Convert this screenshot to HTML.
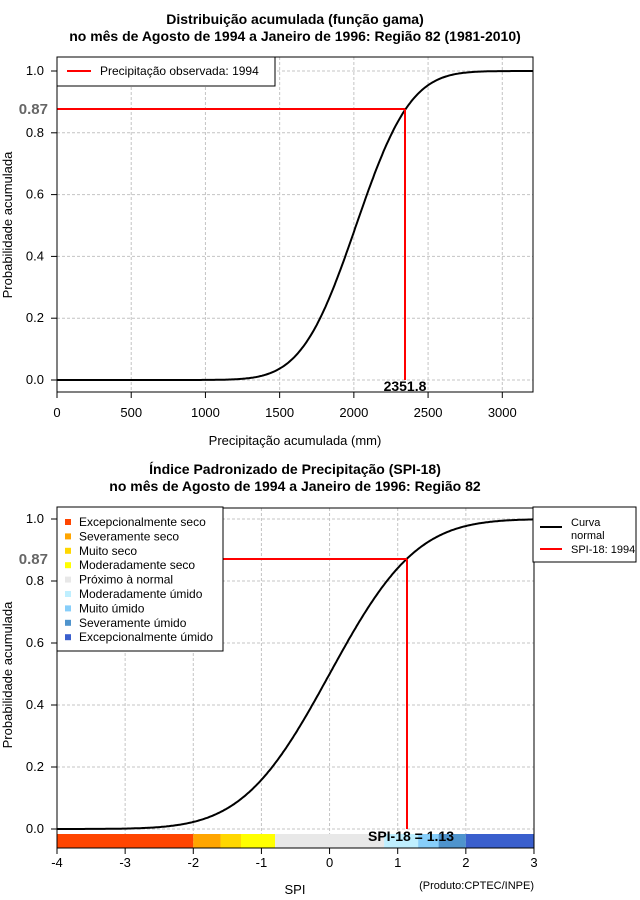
<!DOCTYPE html>
<html><head><meta charset="utf-8"><style>
body{margin:0;background:#fff}
svg{display:block;font-family:"Liberation Sans",sans-serif}
</style></head><body>
<svg id="s" width="640" height="900" xmlns="http://www.w3.org/2000/svg">
<rect width="640" height="900" fill="#fff"/>
<g font-weight="bold" font-size="14" text-anchor="middle">
<text x="295" y="24">Distribuição acumulada (função gama)</text>
<text x="295" y="41">no mês de Agosto de 1994 a Janeiro de 1996: Região 82 (1981-2010)</text>
<text x="295" y="474">Índice Padronizado de Precipitação (SPI-18)</text>
<text x="295" y="491">no mês de Agosto de 1994 a Janeiro de 1996: Região 82</text>
</g>
<g id="grid" stroke="#c4c4c4" stroke-dasharray="3,2" stroke-width="1"></g>
<g id="curves" fill="none" stroke="#000" stroke-width="2"></g>
<!-- top chart -->
<line x1="57" y1="109" x2="405" y2="109" stroke="#f00" stroke-width="2"/>
<line x1="405" y1="109" x2="405" y2="380" stroke="#f00" stroke-width="2"/>
<rect x="57" y="57" width="476" height="335" fill="none" stroke="#000"/>
<rect x="57" y="57" width="218" height="29" fill="#fff" stroke="#000"/>
<line x1="67" y1="71" x2="91" y2="71" stroke="#f00" stroke-width="2"/>
<text x="100" y="75" font-size="12">Precipitação observada: 1994</text>
<text x="405" y="391" font-size="14" font-weight="bold" text-anchor="middle">2351.8</text>
<text x="48" y="114" font-size="15" font-weight="bold" fill="#666" text-anchor="end">0.87</text>
<g id="topax" font-size="13"></g>
<text x="295" y="445" font-size="13" text-anchor="middle">Precipitação acumulada (mm)</text>
<text transform="translate(12,225) rotate(-90)" font-size="13" text-anchor="middle">Probabilidade acumulada</text>
<!-- bottom chart -->
<g id="bar"></g>
<line x1="57" y1="559" x2="407" y2="559" stroke="#f00" stroke-width="2"/>
<line x1="407" y1="559" x2="407" y2="829" stroke="#f00" stroke-width="2"/>
<rect x="57" y="508" width="477" height="340" fill="none" stroke="#000"/>
<text x="411" y="841" font-size="14" font-weight="bold" text-anchor="middle">SPI-18 = 1.13</text>
<text x="48" y="564" font-size="15" font-weight="bold" fill="#666" text-anchor="end">0.87</text>
<rect x="57" y="507" width="166" height="144" fill="#fff" stroke="#000"/>
<g id="leg" font-size="12"></g>
<rect x="533" y="507" width="103" height="55" fill="#fff" stroke="#000"/>
<line x1="540" y1="527" x2="562" y2="527" stroke="#000" stroke-width="2"/>
<line x1="540" y1="549" x2="562" y2="549" stroke="#f00" stroke-width="2"/>
<text x="571" y="526" font-size="11">Curva</text>
<text x="571" y="539" font-size="11">normal</text>
<text x="571" y="553" font-size="11">SPI-18: 1994</text>
<g id="botax" font-size="13"></g>
<text x="295" y="894" font-size="13" text-anchor="middle">SPI</text>
<text x="534" y="889" font-size="11" text-anchor="end">(Produto:CPTEC/INPE)</text>
<text transform="translate(12,675) rotate(-90)" font-size="13" text-anchor="middle">Probabilidade acumulada</text>
</svg>
<script>
var NS="http://www.w3.org/2000/svg";
function el(p,t,a,txt){var e=document.createElementNS(NS,t);for(var k in a)e.setAttribute(k,a[k]);if(txt!=null)e.textContent=txt;document.getElementById(p).appendChild(e);return e;}
function erf(x){var s=x<0?-1:1;x=Math.abs(x);var t=1/(1+0.3275911*x);var y=1-(((((1.061405429*t-1.453152027)*t)+1.421413741)*t-0.284496736)*t+0.254829592)*t*Math.exp(-x*x);return s*y;}
function Phi(z){return 0.5*(1+erf(z/Math.SQRT2));}
function tx(v){return 57+v*0.14843;} function ty(p){return 380-p*309;}
for(var v=0;v<=3000;v+=500){el("grid","line",{x1:tx(v),y1:57,x2:tx(v),y2:392});
 el("topax","line",{x1:tx(v),y1:392,x2:tx(v),y2:398,stroke:"#000"});
 el("topax","text",{x:tx(v),y:417,"text-anchor":"middle"},v);}
for(var i=0;i<=5;i++){var p=i*0.2;el("grid","line",{x1:57,y1:ty(p),x2:533,y2:ty(p)});
 el("topax","line",{x1:51,y1:ty(p),x2:57,y2:ty(p),stroke:"#000"});
 el("topax","text",{x:44,y:ty(p)+4,"text-anchor":"end"},p.toFixed(1));}
var d="";for(var v=0;v<=3210;v+=10){var p=Phi((v-2015)/288);d+=(v?"L":"M")+tx(v).toFixed(1)+","+ty(p).toFixed(1);}
el("curves","path",{d:d});
function bx(v){return 57+(v+4)*68.14;} function by(p){return 829-p*310;}
for(var v=-4;v<=3;v++){el("grid","line",{x1:bx(v),y1:508,x2:bx(v),y2:848});
 el("botax","line",{x1:bx(v),y1:848,x2:bx(v),y2:854,stroke:"#000"});
 el("botax","text",{x:bx(v),y:867,"text-anchor":"middle"},v);}
for(var i=0;i<=5;i++){var p=i*0.2;el("grid","line",{x1:57,y1:by(p),x2:534,y2:by(p)});
 el("botax","line",{x1:51,y1:by(p),x2:57,y2:by(p),stroke:"#000"});
 el("botax","text",{x:44,y:by(p)+4,"text-anchor":"end"},p.toFixed(1));}
d="";for(var v=-4;v<=3.001;v+=0.02){d+=(v>-4?"L":"M")+bx(v).toFixed(1)+","+by(Phi(v)).toFixed(1);}
el("curves","path",{d:d});
var seg=[[-4,-2,"#FF4500"],[-2,-1.6,"#FFA500"],[-1.6,-1.3,"#FFD700"],[-1.3,-0.8,"#FFFF00"],[-0.8,0.8,"#E8E8E8"],[0.8,1.3,"#BFEFFF"],[1.3,1.6,"#87CEFA"],[1.6,2,"#4F94CD"],[2,3,"#3A5FCD"]];
seg.forEach(function(s){el("bar","rect",{x:bx(s[0]),y:834,width:bx(s[1])-bx(s[0]),height:14,fill:s[2]});});
var names=["Excepcionalmente seco","Severamente seco","Muito seco","Moderadamente seco","Próximo à normal","Moderadamente úmido","Muito úmido","Severamente úmido","Excepcionalmente úmido"];
names.forEach(function(n,i){var y=522+i*14.4;el("leg","rect",{x:65,y:y-3,width:6,height:6,fill:seg[i][2]});el("leg","text",{x:79,y:y+4},n);});
</script>
</body></html>
